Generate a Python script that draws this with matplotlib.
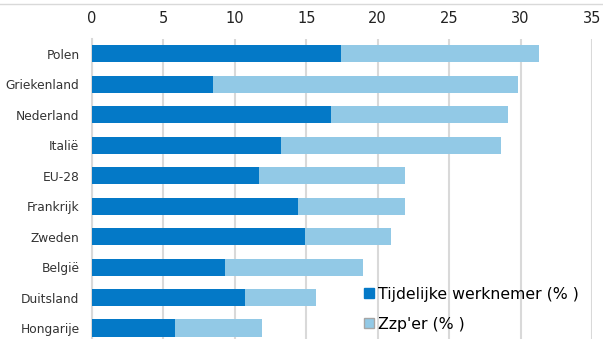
import matplotlib
matplotlib.use("Agg")
import matplotlib.pyplot as plt
from matplotlib.patches import Patch
from matplotlib.lines import Line2D
import numpy as np

countries = ["Polen", "Griekenland", "Nederland", "Italië", "EU-28",
             "Frankrijk", "Zweden", "België", "Duitsland", "Hongarije"]
tijdelijk = [17.4, 8.5, 16.7, 13.2, 11.7, 14.4, 14.9, 9.3, 10.7, 5.8]
zzp = [13.9, 21.3, 12.4, 15.4, 10.2, 7.5, 6.0, 9.7, 5.0, 6.1]

dark = "#0479c7"
light = "#92c9e6"

fig = plt.figure(figsize=(6.03, 3.39), dpi=100)
ax = fig.add_axes([92 / 603, 0, 500 / 603, 1 - 38.5 / 339])

ys = np.arange(len(countries))
ax.barh(ys, tijdelijk, 0.56, color=dark, zorder=3)
ax.barh(ys, zzp, 0.56, left=tijdelijk, color=light, zorder=3)

ax.set_xlim(0, 35)
ax.set_ylim(9 + 11 / 30.5, -0.5)
ax.set_xticks(range(0, 36, 5))
ax.xaxis.tick_top()
ax.tick_params(axis="x", length=0, labelsize=10.5, pad=9, labelcolor="#222222")
ax.set_yticks(ys)
ax.set_yticklabels(countries)
ax.tick_params(axis="y", length=0, labelsize=8.8, pad=9, labelcolor="#333333")
ax.grid(axis="x", color="#d9d9d9", lw=1.5, zorder=0)
for s in ["top", "right", "bottom"]:
    ax.spines[s].set_visible(False)
ax.spines["left"].set_color("#d9d9d9")
ax.spines["left"].set_linewidth(1.5)

fig.add_artist(Line2D([0, 1], [1 - 4 / 339, 1 - 4 / 339], color="#d9d9d9", lw=1))

handles = [Patch(facecolor=dark, edgecolor=dark),
           Patch(facecolor=light, edgecolor="#a6a6a6")]
fig.legend(handles, ["Tijdelijke werknemer (% )", "Zzp'er (% )"],
           loc="lower left", bbox_to_anchor=(350 / 603, -0.02),
           frameon=False, fontsize=11.3, handlelength=0.6, handleheight=0.6,
           handletextpad=0.3, labelspacing=0.95)

fig.savefig("out.png", dpi=100)
